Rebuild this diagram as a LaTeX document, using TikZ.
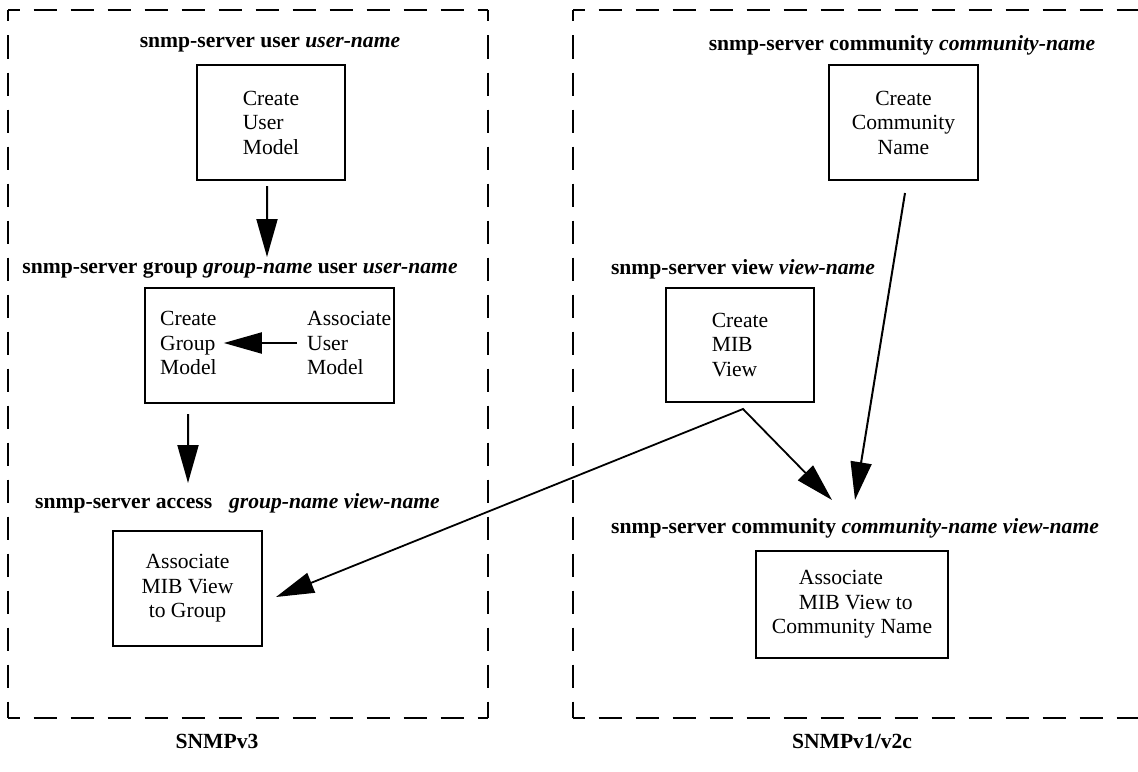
\documentclass[tikz,border=0pt]{standalone}
\usepackage{fontspec}
\setmainfont{Liberation Serif}
\usetikzlibrary{arrows.meta}
\begin{document}
\begin{tikzpicture}[x=1bp,y=-1bp,
  txt/.style={font=\fontsize{21.6bp}{24.5bp}\selectfont, inner sep=0pt},
  stepbox/.style={txt, draw, line width=2bp, minimum width=#1},
  title/.style={txt, anchor=base, font=\fontsize{21.6bp}{24.5bp}\selectfont\bfseries},
  dashline/.style={line width=2bp, dash pattern=on 23bp off 14bp, dash phase=11.5bp},
  arr/.style={line width=2bp, -{Triangle[length=38bp,width=21bp]}},
  arrs/.style={line width=1.8bp, line join=miter,
    {Triangle[length=38bp,width=21bp]}-{Triangle[length=38bp,width=21bp]}}]
\useasboundingbox (0,0) rectangle (1138,772);

% ---- SNMPv3 frame ----
\draw[dashline] (8,10) -- (488,10);
\draw[dashline] (8,10) -- (8,718);
\draw[dashline] (488,10) -- (488,718);
\draw[dashline] (8,718) -- (488,718);

% ---- SNMPv1/v2c frame (open to the right) ----
\draw[dashline] (573,10) -- (1150,10);
\draw[dashline] (573,10) -- (573,718);
\draw[dashline] (573,718) -- (1150,718);

% ---- SNMPv3 column ----
\node[title] (t1) at (270,48) {snmp-server user \textit{user-name}};
\node[stepbox=148bp, minimum height=115bp, align=left] (user) at (271,122.5)
  {Create\\User\\Model};

\node[title] (t2) at (240,273) {snmp-server group \textit{group-name} user \textit{user-name}};
\node[stepbox=249bp, minimum height=115bp] (group) at (269.5,345.5) {};
\node[txt, align=left, anchor=west] (cgm) at (160,343) {Create\\Group\\Model};
\node[txt, align=left, anchor=west] (aum) at (307,343) {Associate\\User\\Model};

\node[title] (t3) at (237.5,508) {snmp-server access\hspace{17bp}\textit{group-name view-name}};
\node[stepbox=149bp, minimum height=115bp, align=center] (mibgrp) at (187.5,588.5)
  {Associate\\MIB View\\to Group};

\node[title] (l3) at (217,748) {SNMPv3};

% ---- SNMPv1/v2c column ----
\node[title] (t4) at (902,51) {snmp-server community \textit{community-name}};
\node[stepbox=149bp, minimum height=115bp, align=center] (comm) at (903.5,122.5)
  {Create\\Community\\Name};

\node[title] (t5) at (743,274) {snmp-server view \textit{view-name}};
\node[stepbox=148bp, minimum height=114bp, align=left] (mib) at (740,345)
  {Create\\MIB\\View};

\node[title] (t6) at (855,533) {snmp-server community \textit{community-name view-name}};
\node[stepbox=192bp, minimum height=107bp, align=left] (mibcomm) at (852,604.5)
  {\hspace*{27bp}Associate\\\hspace*{27bp}MIB View to\\Community Name};

\node[title] (l4) at (852,748) {SNMPv1/v2c};

% ---- connectors ----
\draw[arr] ([xshift=-4bp,yshift=-5bp]user.south) -- ([xshift=27bp,yshift=16bp]t2.base);
\draw[arr] ([xshift=-10bp]aum.west) -- ([xshift=7bp]cgm.east);
\draw[arr] ([xshift=-81.5bp,yshift=-10bp]group.south) -- ([xshift=-49.5bp,yshift=25bp]t3.base);
\draw[arrs] ([xshift=13bp,yshift=-8.5bp]mibgrp.east)
  -- ([xshift=3bp,yshift=-6bp]mib.south)
  -- ([xshift=-23bp,yshift=33bp]t6.base);
\draw[arr] ([xshift=1.5bp,yshift=-12bp]comm.south) -- ([yshift=33bp]t6.base);
\end{tikzpicture}
\end{document}
